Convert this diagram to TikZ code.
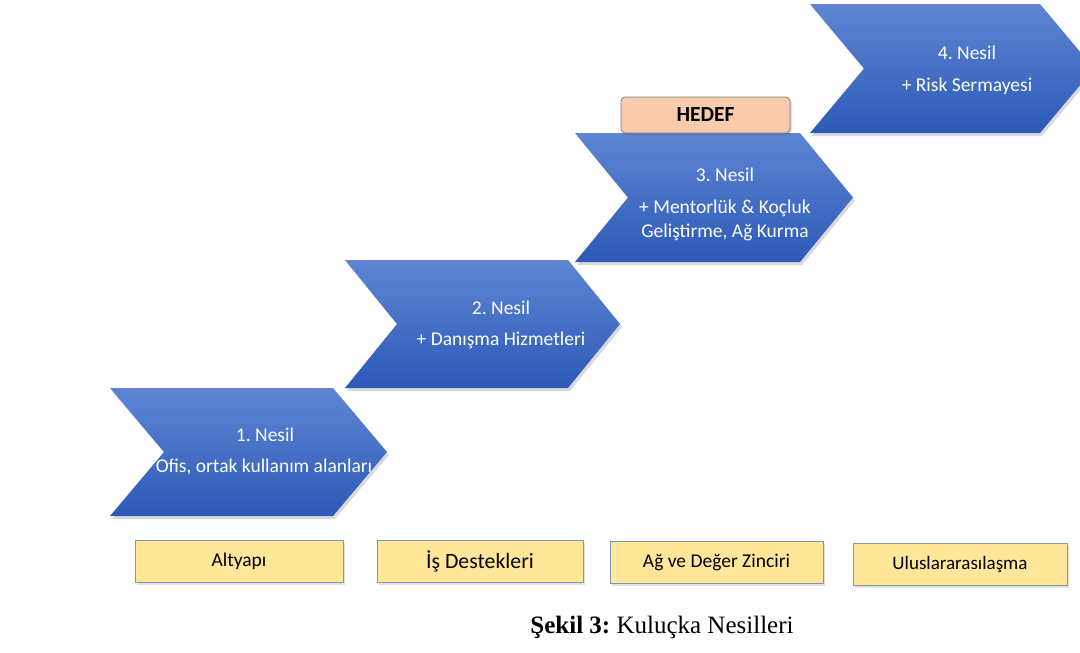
\documentclass[tikz,border=0pt]{standalone}
\usepackage{fontspec}
\setmainfont{Carlito}
\newfontfamily\capfont{Liberation Serif}
\frenchspacing
\definecolor{chevtop}{HTML}{5F85D4}
\definecolor{chevbot}{HTML}{2C5AB7}
\definecolor{boxfill}{HTML}{FFE699}
\definecolor{boxline}{HTML}{8497B0}
\definecolor{hedeffill}{HTML}{F8CBAD}
\definecolor{hedefline}{HTML}{7F7F7F}
\newcommand\chevshape[6]{%#1 name, x0 x1 y0 y1 d
  \fill[black,opacity=.15] ({#2+2},{#4+3}) -- ({#3+2},{#4+3}) -- ({#3+#6+2},{(#4+#5)/2+3}) -- ({#3+2},{#5+3}) -- ({#2+2},{#5+3}) -- ({#2+#6+2},{(#4+#5)/2+3}) -- cycle;
  \shade[top color=chevtop,bottom color=chevbot] (#2,#4) -- (#3,#4) -- ({#3+#6},{(#4+#5)/2}) -- (#3,#5) -- (#2,#5) -- ({#2+#6},{(#4+#5)/2}) -- cycle;
  \coordinate (#1) at ({(#2+#3)/2},{(#4+#5)/2});}
\tikzset{
  chevtext/.style={text=white,font=\fontsize{19.5}{24}\selectfont,align=center,inner sep=0pt},
  yellowbox/.style={draw=boxline,line width=0.9pt,fill=boxfill,minimum height=42pt,inner sep=0pt},
}
\begin{document}
\frenchspacing
\begin{tikzpicture}[x=1pt,y=-1pt]
\useasboundingbox (0,0) rectangle (1080,653);
\clip (0,0) rectangle (1080,653);
\fill[white] (0,0) rectangle (1080,653);
% chevrons
\chevshape{c1}{110}{333}{388}{516}{54}
\chevshape{c2}{345}{568}{260}{388}{52}
\chevshape{c3}{575}{800}{133}{262}{53}
\chevshape{c4}{810}{1040}{4}{133}{54}
% chevron texts
\node[chevtext] (t1) at (265,435) {1. Nesil};
\node[chevtext] (b1) at (264,467) {Ofis, ortak kullanım alanları};
\node[chevtext] (t2) at (501,308) {2. Nesil};
\node[chevtext] (b2) at (501,340) {+ Danışma Hizmetleri};
\node[chevtext] (t3) at (725,175) {3. Nesil};
\node[chevtext] (b3) at (725,220) {+ Mentorlük \& Koçluk\\Geliştirme, Ağ Kurma};
\node[chevtext] (t4) at (967,53) {4. Nesil};
\node[chevtext] (b4) at (967,86) {+ Risk Sermayesi};
% HEDEF
\fill[black,opacity=.12,rounded corners=4pt] (623,99) rectangle (792,135);
\node[draw=hedefline,fill=hedeffill,line width=0.8pt,rounded corners=4pt,minimum width=169pt,minimum height=36pt,inner sep=0pt,font=\bfseries\fontsize{21.5}{24}\selectfont] (hedef) at (705.5,115) {HEDEF};
% bottom boxes
\foreach \xa/\xb/\ya/\yb in {135/343/540/582,377/583/540/582,610/823/541/583,853/1067/543/585}{
  \fill[black,opacity=.12] (\xa+2,\ya+3) rectangle (\xb+2,\yb+3);}
\node[yellowbox,minimum width=208pt,font=\fontsize{19.5}{22}\selectfont] (altyapi) at (239,561) {Altyapı};
\node[yellowbox,minimum width=206pt,font=\fontsize{21.8}{24}\selectfont] (is) at (480,561) {İş Destekleri};
\node[yellowbox,minimum width=213pt,font=\fontsize{19.5}{22}\selectfont] (ag) at (716.5,562) {Ağ ve Değer Zinciri};
\node[yellowbox,minimum width=214pt,font=\fontsize{19}{22}\selectfont] (ulus) at (960,564) {Uluslararasılaşma};
% caption
\node[font=\capfont\fontsize{25}{28}\selectfont,inner sep=0pt,anchor=base] (cap) at (662,633) {\textbf{Şekil 3:} Kuluçka Nesilleri};
\end{tikzpicture}
\end{document}
